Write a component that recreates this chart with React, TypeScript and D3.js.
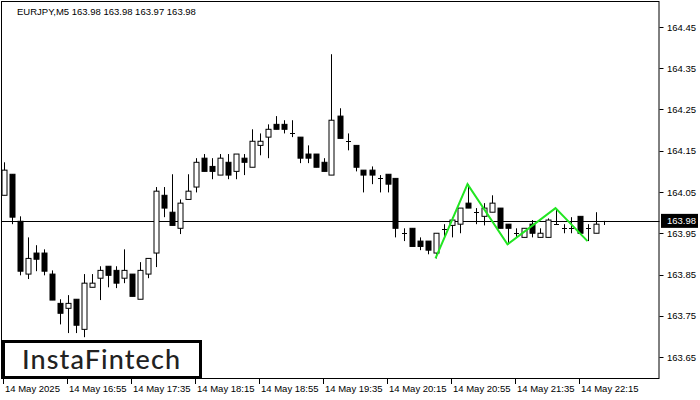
import React from 'react';
import * as d3 from 'd3';

// EURJPY M5 bars, 16:15 .. 22:30 (open, high, low, close)
const opens = [
  164.042, 164.093, 163.979, 163.851, 163.902, 163.902, 163.851, 163.780, 163.768, 163.790,
  163.717, 163.819, 163.841, 163.870, 163.860, 163.841, 163.851, 163.790, 163.851, 163.902,
  164.042, 164.001, 163.962, 164.032, 164.062, 164.132, 164.112, 164.091, 164.122, 164.100,
  164.132, 164.110, 164.163, 164.183, 164.214, 164.214, 164.192, 164.183, 164.142, 164.142,
  164.122, 164.091, 164.234, 164.173, 164.163, 164.103, 164.103, 164.083, 164.093, 164.083,
  163.950, 163.962, 163.931, 163.931, 163.902, 163.960, 163.969, 163.972, 164.023, 164.001,
  163.991, 164.001, 164.011, 163.972, 163.950, 163.940, 163.972, 163.940, 163.940, 163.972,
  163.962, 163.962, 163.991, 163.962, 163.950, 163.980,
];
const highs = [
  164.122, 164.093, 163.991, 163.940, 163.921, 163.911, 163.860, 163.790, 163.800, 163.790,
  163.851, 163.851, 163.870, 163.870, 163.870, 163.911, 163.851, 163.880, 163.889, 164.062,
  164.062, 164.093, 164.032, 164.093, 164.132, 164.142, 164.132, 164.142, 164.142, 164.142,
  164.142, 164.202, 164.192, 164.214, 164.234, 164.224, 164.224, 164.183, 164.163, 164.142,
  164.132, 164.384, 164.253, 164.192, 164.163, 164.103, 164.112, 164.091, 164.093, 164.083,
  163.962, 163.962, 163.940, 163.931, 163.950, 163.972, 163.989, 164.011, 164.069, 164.011,
  164.023, 164.042, 164.011, 163.972, 163.962, 163.962, 163.982, 163.962, 163.986, 164.011,
  163.972, 163.989, 163.991, 163.972, 164.001, 163.980,
];
const lows = [
  164.042, 163.972, 163.848, 163.839, 163.858, 163.848, 163.788, 163.729, 163.708, 163.708,
  163.698, 163.819, 163.788, 163.819, 163.817, 163.829, 163.797, 163.790, 163.841, 163.868,
  163.989, 163.969, 163.948, 164.032, 164.049, 164.100, 164.081, 164.091, 164.081, 164.081,
  164.091, 164.110, 164.139, 164.132, 164.202, 164.192, 164.183, 164.120, 164.120, 164.110,
  164.100, 164.091, 164.180, 164.151, 164.100, 164.049, 164.069, 164.049, 164.049, 163.940,
  163.931, 163.918, 163.909, 163.899, 163.889, 163.940, 163.940, 163.950, 164.011, 163.972,
  163.969, 164.001, 163.962, 163.923, 163.940, 163.940, 163.940, 163.940, 163.940, 163.972,
  163.950, 163.950, 163.950, 163.931, 163.950, 163.970,
];
const closes = [
  164.103, 163.989, 163.858, 163.889, 163.887, 163.858, 163.788, 163.756, 163.780, 163.727,
  163.829, 163.829, 163.860, 163.848, 163.829, 163.860, 163.797, 163.860, 163.889, 164.052,
  164.011, 163.969, 164.023, 164.052, 164.122, 164.100, 164.100, 164.132, 164.091, 164.142,
  164.122, 164.173, 164.173, 164.202, 164.202, 164.202, 164.192, 164.132, 164.132, 164.110,
  164.100, 164.224, 164.180, 164.172, 164.110, 164.091, 164.091, 164.083, 164.069, 163.962,
  163.950, 163.918, 163.918, 163.909, 163.950, 163.960, 163.982, 164.011, 164.011, 164.001,
  164.011, 164.023, 163.962, 163.962, 163.950, 163.962, 163.950, 163.950, 163.982, 163.972,
  163.962, 163.962, 163.950, 163.962, 163.972, 163.980,
];

// triple bottom pattern line (bar index, price)
const patternIdx = [54, 58, 63, 69, 73];
const patternPrice = [163.889, 164.069, 163.923, 164.011, 163.931];

const priceTicks = [164.45, 164.35, 164.25, 164.15, 164.05, 163.95, 163.85, 163.75, 163.65];
const timeTickIdx = [0, 8, 16, 24, 32, 40, 48, 56, 64, 72];
const timeTickLabels = [
  '14 May 2025', '14 May 16:55', '14 May 17:35', '14 May 18:15', '14 May 18:55',
  '14 May 19:35', '14 May 20:15', '14 May 20:55', '14 May 21:35', '14 May 22:15',
];
const lastPrice = 163.98;
const header = 'EURJPY,M5  163.98 163.98 163.97 163.98';

const font = '"Liberation Sans", Arial, sans-serif';

export default function App() {
  const left = 1, top = 1, right = 659.5, bottom = 379;
  const x = d3.scaleLinear().domain([0, 75]).range([3.5, 603.5]);
  const y = d3.scaleLinear().domain([163.65, 164.45]).range([357, 27]);
  const bw = 5;

  const line = d3.line<number>()
    .x((_, i) => x(patternIdx[i]))
    .y((d) => y(d));

  return (
    <svg width={700} height={400} style={{ position: 'absolute', left: 0, top: 0, background: '#fff' }}
      fontFamily={font}>
      <rect x={0} y={0} width={700} height={400} fill="#fff" />
      <defs>
        <clipPath id="plot">
          <rect x={left} y={top} width={right - left} height={bottom - top} />
        </clipPath>
      </defs>

      <text x={17} y={15} fontSize={9.5} fill="#000">{header}</text>

      {/* last price line */}
      <line x1={left} x2={right} y1={Math.round(y(lastPrice)) + 0.5} y2={Math.round(y(lastPrice)) + 0.5}
        stroke="#000" strokeWidth={1} />

      <g clipPath="url(#plot)">
        {opens.map((o, i) => {
          const c = closes[i];
          const cx = Math.round(x(i)) + 0.5;
          const yTop = y(Math.max(o, c));
          const yBot = y(Math.min(o, c));
          const bull = c > o;
          const flat = Math.abs(yBot - yTop) < 1;
          return (
            <g key={i}>
              <line x1={cx} x2={cx} y1={y(highs[i])} y2={y(lows[i])} stroke="#000" strokeWidth={1} />
              {flat ? (
                <line x1={cx - 2.5} x2={cx + 2.5} y1={Math.round(yTop) + 0.5} y2={Math.round(yTop) + 0.5}
                  stroke="#000" strokeWidth={1} />
              ) : (
                <rect x={cx - bw / 2} y={yTop} width={bw} height={yBot - yTop}
                  fill={bull ? '#fff' : '#000'} stroke="#000" strokeWidth={1} />
              )}
            </g>
          );
        })}
        <path d={line(patternPrice) || ''} fill="none" stroke="#22e622" strokeWidth={2} />
      </g>

      {/* frame */}
      <rect x={left + 0.5} y={top + 0.5} width={right - left - 1} height={bottom - top - 1}
        fill="none" stroke="#000" strokeWidth={1} />

      {/* price axis */}
      {priceTicks.map((p) => (
        <g key={p}>
          <line x1={right} x2={right + 4} y1={Math.round(y(p)) + 0.5} y2={Math.round(y(p)) + 0.5} stroke="#000" />
          <text x={667} y={y(p) + 3.5} fontSize={9.5} fill="#000">{p.toFixed(2)}</text>
        </g>
      ))}
      <rect x={661} y={y(lastPrice) - 7} width={37} height={14} fill="#000" />
      <text x={667} y={y(lastPrice) + 3.5} fontSize={9.5} fill="#fff">{lastPrice.toFixed(2)}</text>

      {/* time axis */}
      {timeTickIdx.map((t, i) => (
        <g key={t}>
          <line x1={Math.round(x(t)) - 0.5} x2={Math.round(x(t)) - 0.5} y1={bottom} y2={bottom + 5} stroke="#000" />
          <text x={Math.round(x(t)) + 1} y={392} fontSize={9.5} fill="#000">{timeTickLabels[i]}</text>
        </g>
      ))}

      {/* logo */}
      <rect x={3.5} y={341.5} width={197} height={36} fill="#fff" stroke="#000" strokeWidth={3} />
      <text x={22} y={369} fontSize={27} fontFamily='Lato, "Noto Sans", sans-serif' fontWeight={500}
        fill="#222" letterSpacing={1.1}>InstaFintech</text>
    </svg>
  );
}
